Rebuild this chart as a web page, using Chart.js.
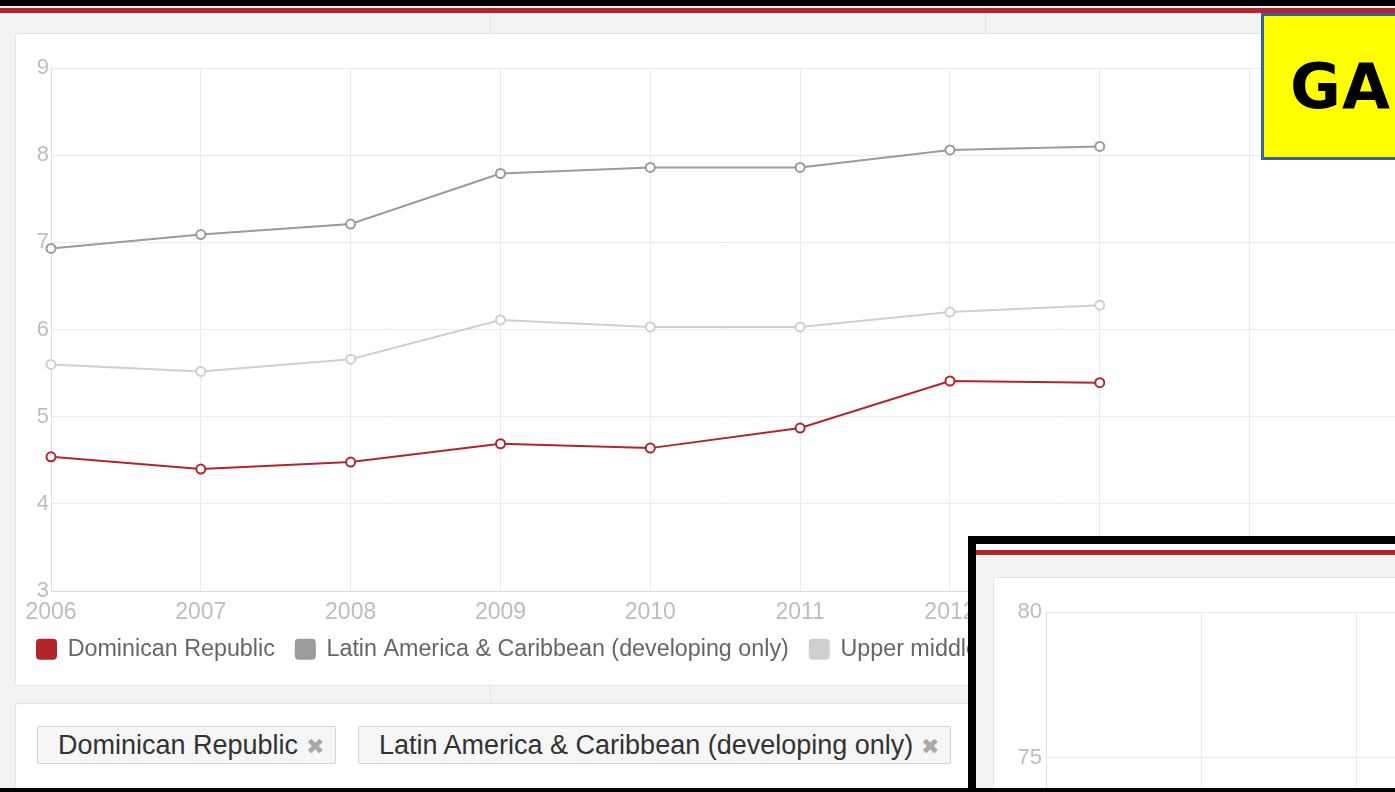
<!DOCTYPE html>
<html>
<head>
<meta charset="utf-8">
<script src="https://cdn.jsdelivr.net/npm/chart.js@4.4.0/dist/chart.umd.min.js"></script>
<style>
  html, body { margin: 0; padding: 0; }
  body {
    width: 1395px; height: 792px; overflow: hidden; position: relative;
    background: #f3f3f1; font-family: "Liberation Sans", Arial, sans-serif;
  }
  .topbar { position: absolute; left: 0; top: 0; width: 100%; height: 6px; background: #000; }
  .redbar { position: absolute; left: 0; top: 8px; width: 100%; height: 5px; background: #b0262a; }
  .sep { position: absolute; top: 0; width: 1px; height: 100%; background: #e2e2e0; }
  .card { position: absolute; background: #fff; border: 1px solid #e4e4e2; border-radius: 3px; }
  #mainCard { left: 15px; top: 33px; width: 1440px; height: 651px; overflow: hidden; }
  #chartBox { position: absolute; left: 0; top: 0; width: 1417px; height: 651px; }
  #tagCard { left: 15px; top: 703px; width: 1440px; height: 200px; }
  .tag {
    position: absolute; top: 22px; height: 36px; line-height: 36px; padding: 0 11px 0 20px;
    background: #f6f6f6; border: 1px solid #d4d4d4; border-radius: 2px;
    font-size: 27px; color: #333; white-space: nowrap;
  }
  .tag .x { color: #a8a8a8; font-size: 22px; margin-left: 8px; }
  #gaBox {
    position: absolute; left: 1261px; top: 13px; width: 200px; height: 141px;
    background: #ffff00; border: 3px solid #3d5f9c;
  }
  #gaBox span {
    position: absolute; left: 26px; top: 40px; font: bold 62px "DejaVu Sans", sans-serif;
    color: #000; letter-spacing: 1px; line-height: 1;
  }
  #inset {
    position: absolute; left: 968px; top: 536px; width: 500px; height: 400px;
    border: 8px solid #000; background: #f3f3f1; overflow: hidden;
  }
  #inset .ired { position: absolute; left: 0; top: 6px; width: 100%; height: 5px; background: #b0262a; }
  #inset .iwhite { position: absolute; left: 0; top: 0; width: 100%; height: 6px; background: #fff; }
  #insetCard { left: 17px; top: 33px; width: 600px; height: 800px; }
  #insetBox { position: absolute; left: 0; top: 0; width: 1179px; height: 720px; }
  .bottombar { position: absolute; left: 0; top: 788px; width: 100%; height: 4px; background: #000; }
</style>
</head>
<body>
<div class="sep" style="left:490px"></div>
<div class="sep" style="left:985px"></div>
<div class="topbar"></div>
<div class="redbar"></div>

<div class="card" id="mainCard">
  <div id="chartBox"><canvas id="mainChart"></canvas></div>
</div>

<div class="card" id="tagCard">
  <div class="tag" style="left:21px">Dominican Republic<span class="x">&#10006;</span></div>
  <div class="tag" style="left:342px">Latin America &amp; Caribbean (developing only)<span class="x">&#10006;</span></div>
</div>

<div id="gaBox"><span>GA</span></div>

<div id="inset">
  <div class="iwhite"></div>
  <div class="ired"></div>
  <div class="card" id="insetCard">
    <div id="insetBox"><canvas id="insetChart"></canvas></div>
  </div>
</div>
<div class="bottombar"></div>

<script>
// categories and series
const years = ["2006", "2007", "2008", "2009", "2010", "2011", "2012", "2013", "2014", "2015"];
const dominicanRepublic = [4.54, 4.40, 4.48, 4.69, 4.64, 4.87, 5.41, 5.39];
const latinAmerica = [6.93, 7.09, 7.21, 7.79, 7.86, 7.86, 8.06, 8.10];
const upperMiddle = [5.60, 5.52, 5.66, 6.11, 6.03, 6.03, 6.20, 6.28];
const yTicks = [3, 4, 5, 6, 7, 8, 9];

// second (partly hidden) chart in the corner
const insetYears = ["2006", "2007", "2008", "2009", "2010", "2011", "2012", "2013"];
const insetTicks = [60, 65, 70, 75, 80];

const FONT = "'Liberation Sans', Arial, sans-serif";
const GRID = "#ebebeb";
const TICK = "#bdbdbd";

function lineSet(label, data, color) {
  return {
    label: label,
    data: data,
    borderColor: color,
    backgroundColor: color,
    pointBackgroundColor: "#fff",
    pointBorderColor: color,
    pointBorderWidth: 2,
    pointRadius: 4.5,
    borderWidth: 2,
    tension: 0,
  };
}

const mainChart = new Chart(document.getElementById("mainChart"), {
  type: "line",
  data: {
    labels: years,
    datasets: [
      lineSet("Dominican Republic", dominicanRepublic, "#b2262b"),
      lineSet("Latin America & Caribbean (developing only)", latinAmerica, "#9b9b9b"),
      lineSet("Upper middle income", upperMiddle, "#cfcfcf"),
    ],
  },
  options: {
    responsive: true,
    maintainAspectRatio: false,
    animation: false,
    layout: { padding: { left: 0, right: 0, top: 34, bottom: 14 } },
    plugins: {
      tooltip: { enabled: false },
      legend: {
        position: "bottom",
        align: "start",
        labels: {
          boxWidth: 19,
          boxHeight: 19,
          padding: 21,
          color: "#666",
          useBorderRadius: true,
          borderRadius: 3,
          font: { family: FONT, size: 23.3 },
        },
      },
    },
    scales: {
      x: {
        // let the year labels hang into the legend gap, without clipping them
        afterFit: (scale) => {
          scale.height = scale.height - 18;
          scale._computeLabelArea = () => undefined;
        },
        grid: { color: GRID, drawTicks: false },
        border: { color: "#dcdcdc" },
        ticks: { color: TICK, font: { family: FONT, size: 23 }, padding: 8, maxRotation: 0, autoSkip: false },
      },
      y: {
        min: yTicks[0],
        max: yTicks[yTicks.length - 1],
        afterFit: (scale) => { scale.width = 35; },
        grid: { color: GRID, drawTicks: false },
        border: { color: "#dcdcdc" },
        ticks: { stepSize: 1, color: TICK, font: { family: FONT, size: 22 }, padding: 2 },
      },
    },
  },
});

const insetChart = new Chart(document.getElementById("insetChart"), {
  type: "line",
  data: { labels: insetYears, datasets: [] },
  options: {
    responsive: true,
    maintainAspectRatio: false,
    animation: false,
    layout: { padding: { left: 0, right: 40, top: 34, bottom: 60 } },
    plugins: { legend: { display: false }, tooltip: { enabled: false } },
    scales: {
      x: {
        grid: { color: GRID, drawTicks: false },
        border: { color: "#dcdcdc" },
        ticks: { color: TICK, font: { family: FONT, size: 22 }, padding: 8, maxRotation: 0 },
      },
      y: {
        min: insetTicks[0],
        max: insetTicks[insetTicks.length - 1],
        afterFit: (scale) => { scale.width = 52; },
        grid: { color: GRID, drawTicks: false },
        border: { color: "#dcdcdc" },
        ticks: { stepSize: 5, color: TICK, font: { family: FONT, size: 22 }, padding: 4 },
      },
    },
  },
});
</script>
</body>
</html>
